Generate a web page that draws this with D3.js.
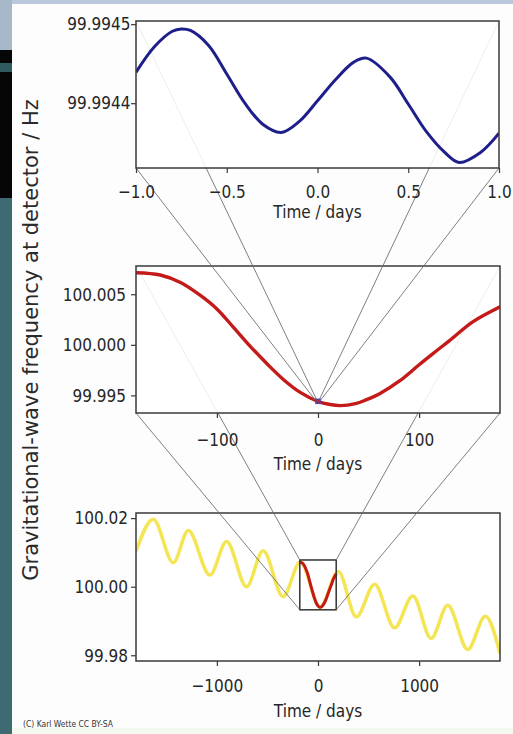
<!DOCTYPE html>
<html>
<head>
<meta charset="utf-8">
<script src="https://cdn.jsdelivr.net/npm/d3@7"></script>
<style>
  body { margin: 0; background: #fff; }
  svg { display: block; }
</style>
</head>
<body>
<svg id="chart" width="513" height="734"></svg>
<script>
// ---- data ----
// top panel: +-1 day around t=0 (daily modulation)
const blueDays = [-1.0, -0.9, -0.8, -0.75, -0.7, -0.6, -0.5, -0.4, -0.3, -0.2, -0.1, 0.0, 0.1, 0.2, 0.27, 0.4, 0.5, 0.6, 0.7, 0.78, 0.9, 1.0];
const blueFreq = [99.994439, 99.994471, 99.994491, 99.994494, 99.994492, 99.994473, 99.994437, 99.994400, 99.994373, 99.994363, 99.994377, 99.994403, 99.994430, 99.994452, 99.994457, 99.994433, 99.994399, 99.994364, 99.994338, 99.994325, 99.994338, 99.994362];

// middle panel: half a year around t=0
const redDays = [-180, -156, -136, -117, -100, -84, -67, -50, -34, -18, 0, 12, 22, 37, 48, 61, 81, 100, 116, 131, 153, 180];
const redFreq = [100.00713, 100.00690, 100.00616, 100.00493, 100.00355, 100.00177, 99.99985, 99.99808, 99.99655, 99.99532, 99.99440, 99.99410, 99.99399, 99.99418, 99.99458, 99.99517, 99.99645, 99.99803, 99.99931, 100.00049, 100.00227, 100.00375];

// bottom panel: ten years (annual modulation + spin-down)
const yellowDays = [-1800, -1629, -1431, -1283, -1069, -904, -707, -543, -345, -175, 21, 200, 379, 560, 757, 938, 1119, 1283, 1481, 1655, 1800];
const yellowFreq = [100.0103, 100.0197, 100.0070, 100.0164, 100.0034, 100.0132, 100.0000, 100.0105, 99.9971, 100.0072, 99.9940, 100.0044, 99.9912, 100.0007, 99.9880, 99.9973, 99.9849, 99.9946, 99.9817, 99.9914, 99.9805];

const topTicksX = [-1, -0.5, 0, 0.5, 1];
const topTicksY = [99.9944, 99.9945];
const midTicksX = [-100, 0, 100];
const midTicksY = [99.995, 100.000, 100.005];
const lowTicksX = [-1000, 0, 1000];
const lowTicksY = [99.98, 100.00, 100.02];

const xTitle = 'Time / days';
const yTitle = 'Gravitational-wave frequency at detector / Hz';
const credit = '(C) Karl Wette CC BY-SA';

// ---- layout ----
const FONT = '"DejaVu Sans", Verdana, sans-serif';
const squeeze = 0.85; // the picture is a bit narrow, so text is squeezed sideways

const panels = {
  top: { left: 136, right: 499, top: 21, bottom: 168, xDomain: [-1, 1], yDomain: [99.994318, 99.994504],
         xTicks: topTicksX, yTicks: topTicksY, xFmt: '.1f', yFmt: '.4f', capGap: 17, yGap: 5.5, titleGap: 50 },
  mid: { left: 136, right: 500, top: 266, bottom: 413, xDomain: [-180, 180], yDomain: [99.99326, 100.00779],
         xTicks: midTicksX, yTicks: midTicksY, xFmt: '.0f', yFmt: '.3f', capGap: 20, yGap: 10, titleGap: 57 },
  low: { left: 136, right: 500, top: 513, bottom: 661, xDomain: [-1800, 1800], yDomain: [99.97833, 100.02149],
         xTicks: lowTicksX, yTicks: lowTicksY, xFmt: '.0f', yFmt: '.2f', capGap: 17.5, yGap: 8, titleGap: 56 }
};
Object.values(panels).forEach(p => {
  p.x = d3.scaleLinear().domain(p.xDomain).range([p.left, p.right]);
  p.y = d3.scaleLinear().domain(p.yDomain).range([p.bottom, p.top]);
});

const svg = d3.select('#chart');

// backdrop of the slide photo
svg.append('rect').attr('width', 513).attr('height', 734).attr('fill', '#fdfdfd');
svg.append('rect').attr('x', 0).attr('y', 0).attr('width', 513).attr('height', 4).attr('fill', '#bcc8dc');
svg.append('rect').attr('x', 0).attr('y', 0).attr('width', 12).attr('height', 50).attr('fill', '#a7b9c9');
svg.append('rect').attr('x', 0).attr('y', 50).attr('width', 12).attr('height', 148).attr('fill', '#060606');
svg.append('rect').attr('x', 0).attr('y', 63).attr('width', 12).attr('height', 9).attr('fill', '#2f5a60');
svg.append('rect').attr('x', 0).attr('y', 198).attr('width', 12).attr('height', 536).attr('fill', '#3e6a72');
svg.append('rect').attr('x', 12).attr('y', 728).attr('width', 501).attr('height', 6).attr('fill', '#f4f9ef');

const defs = svg.append('defs');

function drawPanel(key, bgOpacity, drawMarks) {
  const p = panels[key];
  const g = svg.append('g').attr('class', 'panel-' + key);

  defs.append('clipPath').attr('id', 'clip-' + key)
    .append('rect')
    .attr('x', p.left).attr('y', p.top)
    .attr('width', p.right - p.left).attr('height', p.bottom - p.top);

  g.append('rect')
    .attr('x', p.left).attr('y', p.top)
    .attr('width', p.right - p.left).attr('height', p.bottom - p.top)
    .attr('fill', '#ffffff')
    .attr('fill-opacity', bgOpacity);

  const marks = g.append('g').attr('clip-path', `url(#clip-${key})`);
  drawMarks(marks, p);

  // x axis
  const xAxis = g.append('g')
    .attr('transform', `translate(0,${p.bottom})`)
    .call(d3.axisBottom(p.x).tickValues(p.xTicks).tickFormat(d3.format(p.xFmt))
      .tickSize(5).tickPadding(p.capGap + 0.4 - 5));
  // y axis
  const yAxis = g.append('g')
    .attr('transform', `translate(${p.left},0)`)
    .call(d3.axisLeft(p.y).tickValues(p.yTicks).tickFormat(d3.format(p.yFmt))
      .tickSize(5).tickPadding(p.yGap / squeeze - 5));

  [xAxis, yAxis].forEach(ax => {
    ax.select('.domain').remove();
    ax.selectAll('line').attr('stroke', '#3a3a3a').attr('stroke-width', 1.2);
    ax.selectAll('text')
      .attr('fill', '#262626')
      .style('font-family', FONT)
      .style('font-size', '18px')
      .attr('transform', `scale(${squeeze},1)`);
  });

  // frame
  g.append('rect')
    .attr('x', p.left).attr('y', p.top)
    .attr('width', p.right - p.left).attr('height', p.bottom - p.top)
    .attr('fill', 'none')
    .attr('stroke', '#3a3a3a')
    .attr('stroke-width', 1.5);

  // x title
  g.append('text')
    .attr('transform', `translate(${(p.left + p.right) / 2},${p.bottom + p.titleGap}) scale(${squeeze},1)`)
    .attr('text-anchor', 'middle')
    .attr('fill', '#262626')
    .style('font-family', FONT)
    .style('font-size', '18px')
    .text(xTitle);
}

function line(p, xs, ys, curve) {
  return d3.line()
    .x((d, i) => p.x(xs[i]))
    .y(d => p.y(d))
    .curve(curve || d3.curveCatmullRom.alpha(0.5))(ys);
}

// box of panel `inner` drawn inside panel `outer`
function zoomBox(inner, outer) {
  const a = panels[inner], b = panels[outer];
  return {
    x0: b.x(a.xDomain[0]), x1: b.x(a.xDomain[1]),
    y0: b.y(a.yDomain[1]), y1: b.y(a.yDomain[0])
  };
}

function drawConnectors(inner, outer) {
  const a = panels[inner];
  const bx = zoomBox(inner, outer);
  const pairs = [
    [[a.left, a.top], [bx.x0, bx.y0]],
    [[a.right, a.top], [bx.x1, bx.y0]],
    [[a.left, a.bottom], [bx.x0, bx.y1]],
    [[a.right, a.bottom], [bx.x1, bx.y1]]
  ];
  svg.append('g').selectAll('line')
    .data(pairs)
    .enter()
    .append('line')
    .attr('x1', d => d[0][0]).attr('y1', d => d[0][1])
    .attr('x2', d => d[1][0]).attr('y2', d => d[1][1])
    .attr('stroke', '#707070')
    .attr('stroke-width', 0.9);
}

// bottom panel (drawn first, connectors lie over it)
drawPanel('low', 1, (g, p) => {
  g.append('path')
    .attr('d', line(p, yellowDays, yellowFreq, d3.curveMonotoneX))
    .attr('fill', 'none')
    .attr('stroke', '#f2df2e')
    .attr('stroke-opacity', 0.82)
    .attr('stroke-width', 3.5);
  g.append('path')
    .attr('d', line(p, redDays, redFreq))
    .attr('fill', 'none')
    .attr('stroke', '#c41a1a')
    .attr('stroke-width', 3);
  const bx = zoomBox('mid', 'low');
  g.append('rect')
    .attr('x', bx.x0).attr('y', bx.y0)
    .attr('width', bx.x1 - bx.x0).attr('height', bx.y1 - bx.y0)
    .attr('fill', 'none')
    .attr('stroke', '#333')
    .attr('stroke-width', 1.5);
});

drawConnectors('mid', 'low');

drawPanel('mid', 0.86, (g, p) => {
  g.append('path')
    .attr('d', line(p, redDays, redFreq))
    .attr('fill', 'none')
    .attr('stroke', '#c41a1a')
    .attr('stroke-width', 3.4);
});

drawConnectors('top', 'mid');

// small square on the middle panel showing the top panel's window
{
  const bx = zoomBox('top', 'mid');
  svg.append('rect')
    .attr('x', bx.x0 - 1).attr('y', bx.y0 - 1)
    .attr('width', bx.x1 - bx.x0 + 2).attr('height', bx.y1 - bx.y0 + 2)
    .attr('fill', 'none')
    .attr('stroke', '#5a3f9a')
    .attr('stroke-width', 1.6);
}

drawPanel('top', 0.86, (g, p) => {
  g.append('path')
    .attr('d', line(p, blueDays, blueFreq))
    .attr('fill', 'none')
    .attr('stroke', '#1f1f8c')
    .attr('stroke-width', 3);
});

// shared y title
svg.append('text')
  .attr('transform', 'translate(38,340) rotate(-90)')
  .attr('text-anchor', 'middle')
  .attr('fill', '#2a2a2a')
  .style('font-family', FONT)
  .style('font-size', '21px')
  .text(yTitle);

// credit line
svg.append('text')
  .attr('transform', `translate(23,727) scale(0.8,1)`)
  .attr('fill', '#333')
  .style('font-family', FONT)
  .style('font-size', '9.5px')
  .text(credit);
</script>
</body>
</html>
